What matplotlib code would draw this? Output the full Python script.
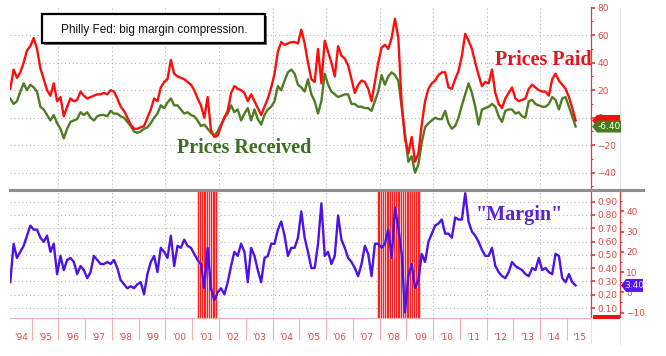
import numpy as np
import pandas as pd
import matplotlib
matplotlib.use("Agg")
import matplotlib.pyplot as plt
from matplotlib.patches import Rectangle, Polygon
from matplotlib.lines import Line2D
from matplotlib.transforms import IdentityTransform

# ---------------- data ----------------
start_year = 1994.2          # first observation (decimal year)
step_years = 0.125           # spacing of the readings

prices_paid = [
    21, 35, 29, 33, 40, 49, 52, 58, 50, 36,
    28, 20, 16, 25, 12, 15, 1, 8, 14, 12,
    13, 19, 16, 14, 15, 16, 17, 17, 18, 17,
    20, 19, 14, 8, 5, 0, -5, -8, -8, -7,
    -6, 0,
    6, 14, 12, 22, 26, 28, 42, 32, 30, 29,
    28, 26, 24, 20, 14, 9, 0, 15, -9, -14,
    -13, -6, 0, 5, 18, 23, 21, 20, 18, 12,
    17, 12, 7, 2, 8, 14, 22, 32, 48, 55,
    53, 54,
    55, 55, 54, 64, 54, 40, 28, 26, 50, 25,
    56, 48, 40, 30, 52, 45, 43, 38, 28, 18,
    24, 27, 26, 21, 12, 26, 40, 51, 53, 50,
    58, 72, 58, 10, -15, -26, -14, -32, -26, -5,
    12, 21, 25, 27,
    31, 33, 33, 22, 21, 28, 34, 45, 61, 56,
    50, 40, 31, 23, 26, 25, 35, 18, 10, 7,
    14, 18, 22, 14, 12, 13, 14, 21, 24, 22,
    20, 19, 19, 16, 28, 32, 27, 24, 21, 15,
    7, -2,
]

prices_received = [
    14, 10, 12, 19, 25, 20, 24, 22, 19, 8,
    6, 2, -2, 2, -4, -8, -15, -8, -3, -2,
    -1, 4, 2, 4, 0, -2, 1, 2, 2, 1,
    5, 3, 3, 1, 0, -3, -6, -10, -11, -10,
    -8, -7,
    -4, 0, 3, 9, 7, 11, 14, 9, 9, 6,
    3, 4, 2, 1, -2, -6, -5, -8, -11, -13,
    -10, -5, 0, 3, 9, 4, 6, -2, 3, 7,
    -2, 6, -1, -5, 2, 6, 8, 12, 23, 20,
    27, 33,
    35, 32, 24, 22, 19, 28, 17, 12, 3, 12,
    32, 24, 19, 17, 15, 16, 17, 17, 10, 10,
    8, 8, 7, 7, 5, 12, 19, 31, 24, 30,
    33, 31, 27, 8, -12, -32, -28, -40, -34, -18,
    -7, -4, -2, 0,
    -1, -1, 5, -4, -8, -6, 0, 9, 17, 25,
    18, 8, -5, 6, 7, 8, 10, 8, 1, -3,
    5, 6, 6, 3, 4, 1, 0, 12, 13, 10,
    9, 8, 8, 10, 15, 13, 6, 14, 15, 8,
    1, -6.4,
]

margin = [
    5, 24, 17, 20, 23, 28, 33, 31, 31, 27,
    25, 28, 20, 24, 9, 18, 11, 16, 17, 15,
    9, 13, 11, 7, 10, 18, 16, 14, 14, 15,
    14, 16, 12, 6, 4, 2, 3, 2, 4, 5,
    -1, 9, 15, 18, 10, 22, 20, 17, 28, 13,
    23, 22, 26, 23, 22, 19, 16, 14,
    2, 22, 2, -4, 0, 2, -1, 5, 13, 20,
    18, 24, 20, 5, 22, 18, 11, 5, 17, 18,
    24, 24, 31, 35, 28, 18, 22, 22, 27, 40,
    27, 20, 12, 12, 24, 44, 18, 20, 14, 18,
    38, 26, 22, 17, 15, 12, 8, 14, 23, 19,
    8, 24, 24, 22, 24,
    31, 17, 42, 32, 19, -10, 8, 14, 2, 6,
    19, 15, 25, 29, 33, 34, 36, 29, 29, 27,
    37, 36, 36, 49, 35, 30, 28, 25, 21, 18,
    18, 22, 13, 10, 8, 7, 10, 15, 13, 12,
    11, 9, 8, 12, 11, 17, 11, 12, 10, 9,
    19, 18, 7, 5, 9, 5, 3.4,
]

recession_periods = [("2001-03", "2001-11"), ("2007-12", "2009-06")]

year_starts = list(range(1994, 2016))
year_labels = ["'94", "'95", "'96", "'97", "'98", "'99", "'00", "'01", "'02", "'03", "'04",
               "'05", "'06", "'07", "'08", "'09", "'10", "'11", "'12", "'13", "'14", "'15"]
paid_ticks = [-40, -20, 0, 20, 40, 60, 80]
margin_ticks = [-10, 0, 10, 20, 30, 40]
indicator_ticks = [0.1, 0.2, 0.3, 0.4, 0.5, 0.6, 0.7, 0.8, 0.9]

last_paid = prices_paid[-1]
last_received = prices_received[-1]
last_margin = margin[-1]

# ---------------- styling ----------------
RED = "#ff0d0d"
GREEN = "#4f7b23"
PURPLE = "#4c12e6"
AX_RED = "#e03a3a"
LBL_RED = "#d94a4a"
PINK = "#f2b0b0"
GRID = "#b5b5b5"

W, H = 666, 356
fig = plt.figure(figsize=(W / 100, H / 100), dpi=100)
fig.patch.set_facecolor("white")


def rect(l, t, r, b):
    return [l / W, 1 - b / H, (r - l) / W, (b - t) / H]


x_min, x_max = 1994.19, 2015.90

ax_top = fig.add_axes(rect(10, 7, 591, 188))
ax_bot = fig.add_axes(rect(10, 191, 591, 318), sharex=ax_top)
ax_m = ax_bot.twinx()

t = start_year + step_years * np.arange(len(prices_paid))

# ---- top panel ----
ax_top.set_xlim(x_min, x_max)
ax_top.set_ylim(-51.1, 80.5)
for yr in range(1996, 2015, 2):
    ax_top.axvline(yr, color=GRID, lw=0.8, ls=(0, (1, 2.5)), zorder=0.5)
for v in [-40, -20, 0, 20, 40, 60]:
    ax_top.axhline(v, color=GRID, lw=0.8, ls=(0, (1, 2.5)), zorder=0.5)
ax_top.plot(t, prices_received, color=GREEN, lw=1.7, zorder=3)
ax_top.plot(t, prices_paid, color=RED, lw=1.7, zorder=4)

for s in ["left", "top", "bottom"]:
    ax_top.spines[s].set_visible(False)
ax_top.spines["right"].set_color(AX_RED)
ax_top.spines["right"].set_linewidth(0.9)
ax_top.yaxis.tick_right()
ax_top.set_yticks(paid_ticks)
ax_top.set_yticks([-50, -30, -10, 10, 30, 50, 70], minor=True)
ax_top.tick_params(axis="y", which="major", length=3, width=1.2, color=AX_RED,
                   labelcolor=LBL_RED, labelsize=6.5, pad=1.5)
ax_top.tick_params(axis="y", which="minor", length=1.5, width=0.8, color=AX_RED)
ax_top.tick_params(axis="x", which="both", length=0, labelbottom=False)

# ---- bottom panel ----
ax_bot.set_ylim(0.025, 0.98)
for yr in range(1996, 2015, 2):
    ax_bot.axvline(yr, color=GRID, lw=0.8, ls=(0, (1, 2.5)), zorder=0.5)
for v in indicator_ticks:
    ax_bot.axhline(v, color=GRID, lw=0.8, ls=(0, (1, 2.5)), zorder=0.5)

for a, b in recession_periods:
    months = pd.period_range(a, b, freq="M")
    xs = [m.year + (m.month - 1) / 12 for m in months]
    ax_bot.bar(xs, [1.0] * len(xs), width=1 / 12, align="edge", bottom=0,
               color="#ff1f1f", edgecolor="#fff0f0", linewidth=0.4, zorder=1)

ax_m.set_ylim(-12.7, 50.1)
ax_m.plot(t, margin, color=PURPLE, lw=1.7, zorder=3)

ax_bot.yaxis.tick_right()
ax_bot.set_yticks(indicator_ticks)
ax_bot.set_yticklabels([f"{v:.2f}" for v in indicator_ticks])
ax_bot.tick_params(axis="y", length=3, width=1.2, color=AX_RED,
                   labelcolor=LBL_RED, labelsize=6.5, pad=1.5)
for s in ["left", "top"]:
    ax_bot.spines[s].set_visible(False)
ax_bot.spines["bottom"].set_color(PINK)
ax_bot.spines["right"].set_color(AX_RED)
ax_bot.spines["right"].set_linewidth(0.9)

for s in ["left", "top", "bottom"]:
    ax_m.spines[s].set_visible(False)
ax_m.spines["right"].set_position(("outward", 21))
ax_m.spines["right"].set_color(AX_RED)
ax_m.spines["right"].set_linewidth(0.9)
ax_m.set_yticks(margin_ticks)
ax_m.set_yticks([-5, 5, 15, 25, 35, 45], minor=True)
ax_m.tick_params(axis="y", which="major", length=3, width=1.2, color=AX_RED,
                 labelcolor=LBL_RED, labelsize=6.5, pad=1.5)
ax_m.tick_params(axis="y", which="minor", length=1.5, width=0.8, color=AX_RED)

# x axis: year boundaries as long pink ticks, labels centred in each year
ax_bot.set_xticks(year_starts[1:])
ax_bot.set_xticklabels([])
centers = [(max(y, x_min) + min(y + 1, x_max)) / 2 for y in year_starts]
ax_bot.set_xticks(centers, minor=True)
ax_bot.set_xticklabels(year_labels, minor=True)
ax_bot.tick_params(axis="x", which="major", length=16, width=0.8, color=PINK)
ax_bot.tick_params(axis="x", which="minor", length=0, pad=10.5,
                   labelsize=6.5, labelcolor=LBL_RED)
ax_bot.set_xlim(x_min, x_max)

# ---- figure decorations ----
fig.add_artist(Line2D([10 / W, 643 / W], [1 - 189.5 / H] * 2, color="#8e8e8e", lw=2.2))
fig.add_artist(Line2D([620 / W] * 2, [1 - 8 / H, 1 - 188 / H], color="#e2e2e2", lw=0.8))
fig.add_artist(Line2D([591 / W] * 2, [1 - 318 / H, 1 - 343 / H], color="#e6e6e6", lw=0.8))
fig.add_artist(Line2D([620 / W] * 2, [1 - 318 / H, 1 - 345 / H], color="#e6e6e6", lw=0.8))


def tag(ax, value, x0, x1, h, fc, text=None, tc="white"):
    y = ax.transData.transform((x_min, value))[1]
    tip = 5
    pts = [(x0, y), (x0 + tip, y + h / 2), (x1, y + h / 2), (x1, y - h / 2), (x0 + tip, y - h / 2)]
    fig.add_artist(Polygon(pts, closed=True, transform=IdentityTransform(),
                           fc=fc, ec="none", zorder=10))
    if text:
        fig.text((x0 + tip + x1) / 2 / W, y / H, text, ha="center", va="center",
                 color=tc, fontsize=6.5, zorder=11)


tag(ax_top, last_paid, 592, 620, 11, "#f01010")
tag(ax_top, last_received, 592, 621, 12, "#4b7a1e", f"{last_received:.2f}")
tag(ax_m, last_margin, 621, 643, 13, "#5a14f0", f"{last_margin:.2f}", "#e4e4ff")
fig.add_artist(Rectangle((593, H - 319), 27, 4, transform=IdentityTransform(),
                         fc="#f01010", ec="none", zorder=10))

# title box
fig.add_artist(Rectangle((44, H - 45), 223, 29, transform=IdentityTransform(),
                         fc="#6e6e6e", ec="none", zorder=8))
fig.add_artist(Rectangle((42, H - 43), 223, 29, transform=IdentityTransform(),
                         fc="white", ec="black", lw=1.6, zorder=9))
fig.text(154 / W, 1 - 29.5 / H, "Philly Fed: big margin compression.", ha="center",
         va="center", fontsize=8.5, family="Liberation Sans", color="#111111", zorder=12)

# series labels
fig.text(543 / W, 1 - 65 / H, "Prices Paid", ha="center", va="baseline",
         fontsize=14.5, family="Liberation Serif", weight="bold", color="#e3141c", zorder=12)
fig.text(244 / W, 1 - 153 / H, "Prices Received", ha="center", va="baseline",
         fontsize=14.5, family="Liberation Serif", weight="bold", color="#3c6e24", zorder=12)
fig.text(519 / W, 1 - 220 / H, "\"Margin\"", ha="center", va="baseline",
         fontsize=14.5, family="Liberation Serif", weight="bold", color="#5a22d8", zorder=12)

fig.savefig("out.png", dpi=100)
